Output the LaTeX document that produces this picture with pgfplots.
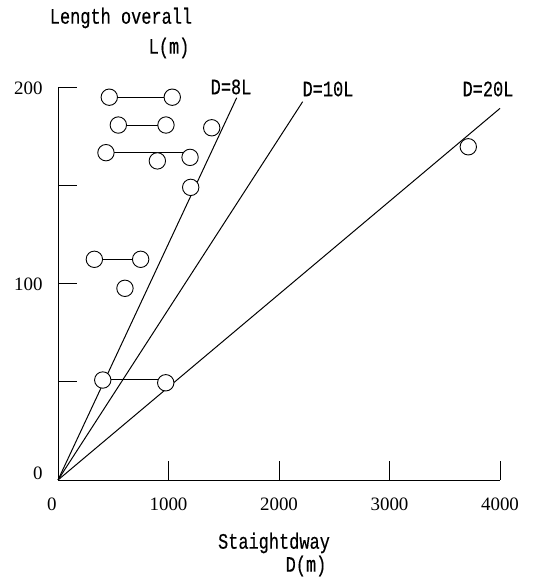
\documentclass[border=0pt]{standalone}
\usepackage{fontspec}
\setmainfont{Liberation Serif}
\newfontfamily\lblfont[FakeBold=0.4]{Liberation Mono}
\usepackage{pgfplots}
\pgfplotsset{compat=1.18}
\newcommand{\lbl}[1]{\scalebox{1}[1.3]{\lblfont #1}}
\begin{document}
\begin{tikzpicture}[x=1bp,y=1bp]
\path[use as bounding box] (0,0) rectangle (553,577);
\begin{axis}[
  at={(58bp,97bp)}, anchor=south west,
  scale only axis, width=442bp, height=392bp,
  xmin=0, xmax=4000, ymin=0, ymax=200,
  axis x line=bottom, axis y line=left,
  axis line style={-, line width=1pt},
  xtick={0,1000,2000,3000,4000},
  xticklabels={\makebox[0pt][r]{0\hspace{1.5bp}},1000,2000,3000,4000},
  ytick={0,50,100,150,200},
  yticklabels={\raisebox{0.5bp}[0pt][0pt]{0},,100,,200},
  tick align=inside, major tick length=19bp,
  tick style={line width=1pt, black},
  tick label style={font=\fontsize{19}{19}\selectfont},
  xticklabel style={yshift=-14bp},
  yticklabel style={xshift=-12bp},
  clip=false,
]
% connecting segments
\addplot[black, line width=1pt] coordinates {(464,195.3)(1034,195.3)};
\addplot[black, line width=1pt] coordinates {(546,181.1)(977,181.1)};
\addplot[black, line width=1pt] coordinates {(434,167)(1195,167)};
\addplot[black, line width=1pt] coordinates {(329,112.6)(748,112.6)};
\addplot[black, line width=1pt] coordinates {(405,51.5)(975,51.5)};
% circles
\addplot[only marks, mark=*, mark size=8.2bp,
  mark options={draw=black, fill=white, line width=0.9pt}] coordinates {
  (464,195.3)(1034,195.3)
  (546,181.1)(977,181.1)(1391,179.7)
  (434,167)(1195,164.6)(899,162.8)
  (1201,149.3)
  (329,112.6)(748,112.6)
  (606,97.8)
  (405,51)(975,49.6)
  (3713,170)
};
% reference lines
\addplot[black, line width=1pt] coordinates {(0,0)(1617,195)};
\addplot[black, line width=1pt] coordinates {(0,0)(2214,193)};
\addplot[black, line width=1pt] coordinates {(0,0)(4000,189.6)};
\end{axis}
\begin{scope}[every node/.style={font=\fontsize{17}{17}\selectfont, inner sep=0pt}]
\node at (121,559) {\lbl{Length overall}};
\node at (169,529) {\lbl{L(m)}};
\node at (274,34) {\lbl{Staightdway}};
\node at (306,11) {\lbl{D(m)}};
\node at (231,490) {\lbl{D=8L}};
\node at (328,488) {\lbl{D=10L}};
\node at (488,488) {\lbl{D=20L}};
\end{scope}
\end{tikzpicture}
\end{document}
